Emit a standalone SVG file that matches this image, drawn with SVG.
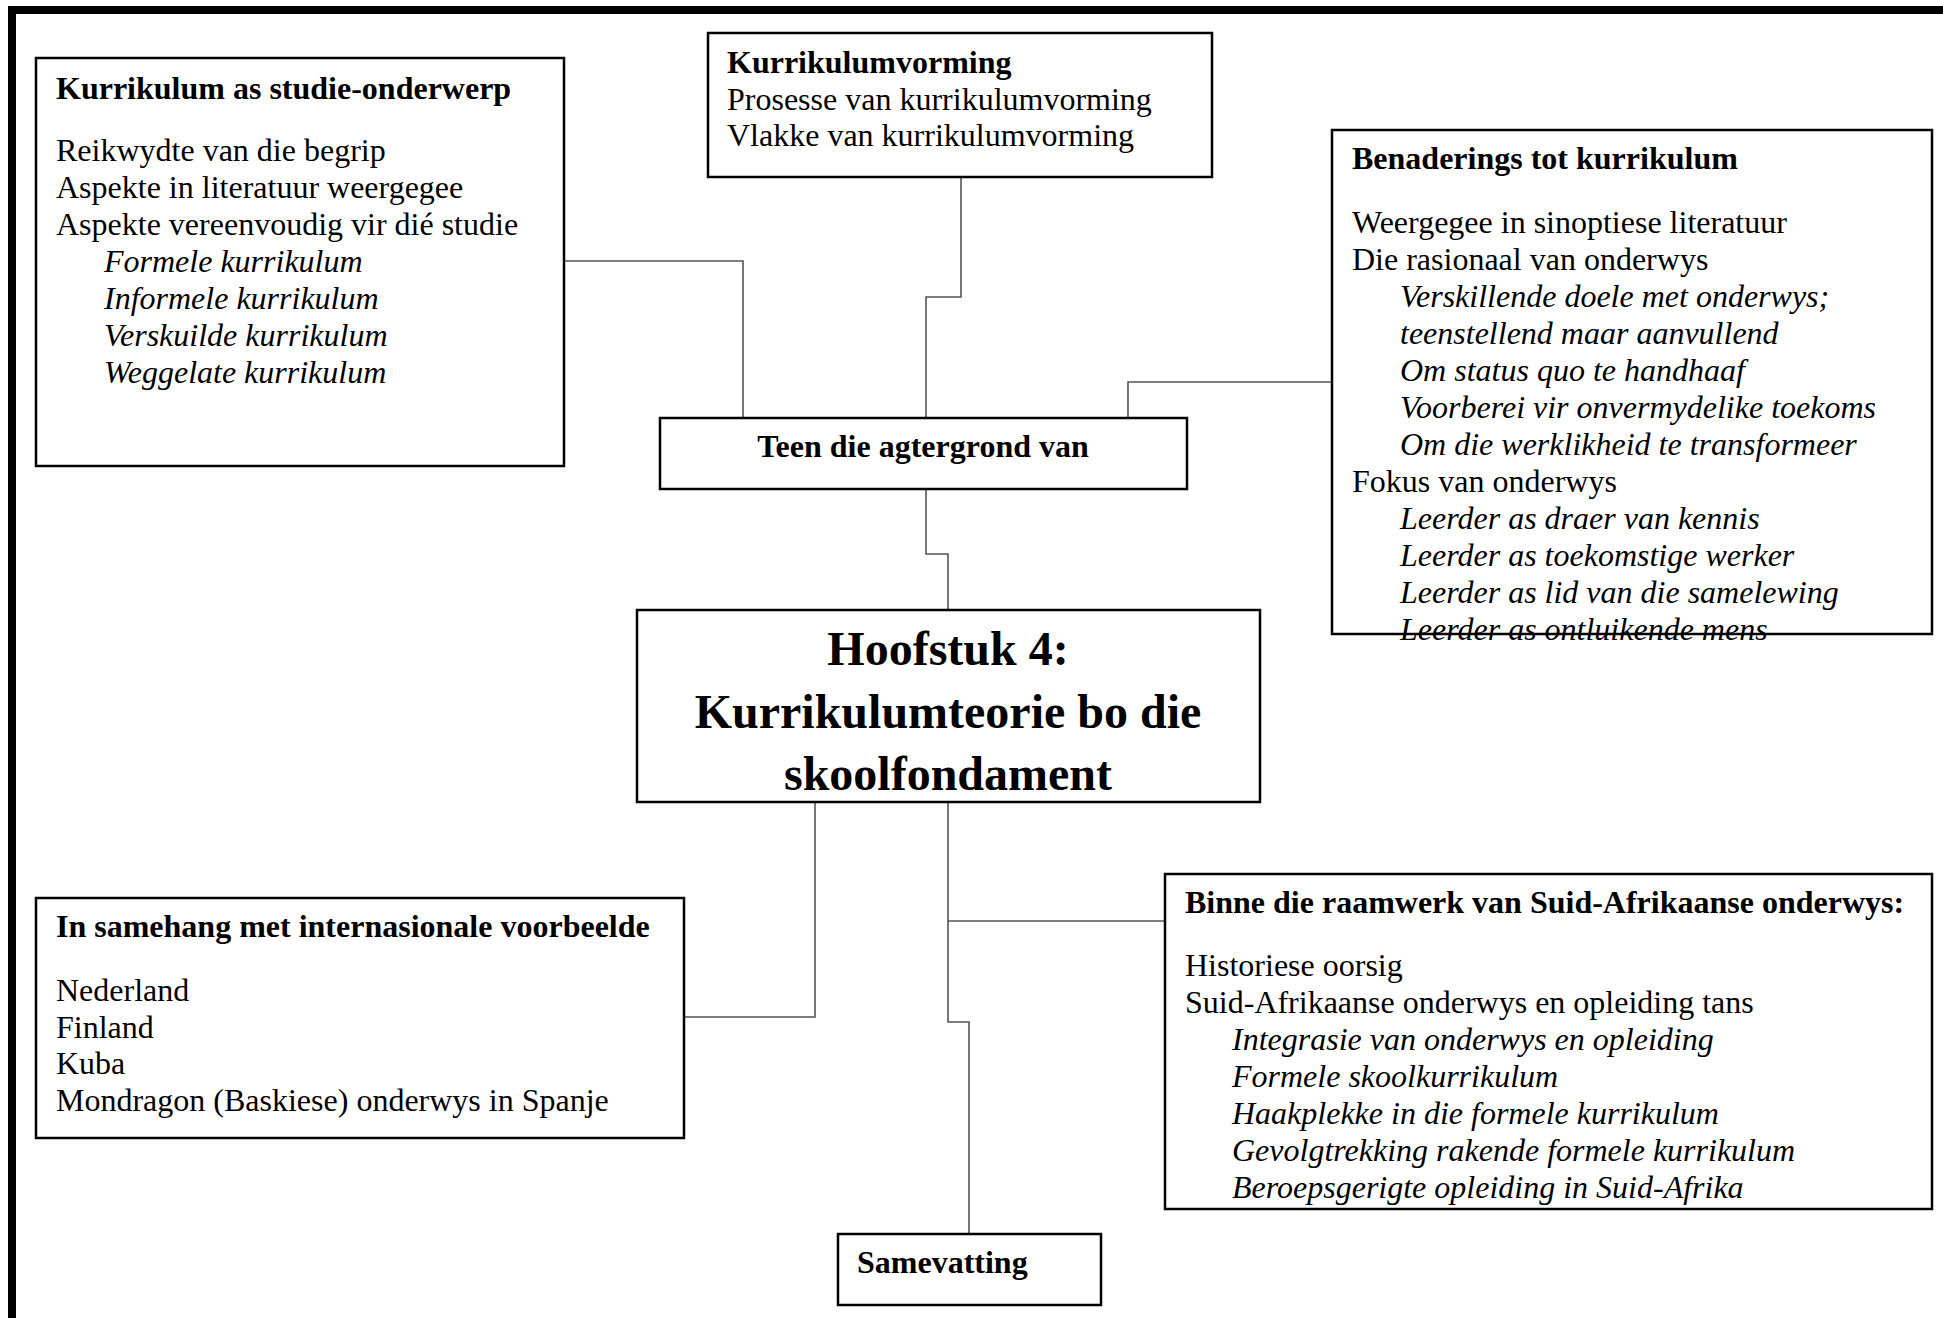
<svg xmlns="http://www.w3.org/2000/svg" width="1943" height="1318" viewBox="0 0 1943 1318">
<style>
.box{fill:none;stroke:#000;stroke-width:2.5}
.con{fill:none;stroke:#555;stroke-width:1.6}
text{font-family:"Liberation Serif","Times New Roman",serif;font-size:32px;fill:#000}
.b{font-weight:bold}
.i{font-style:italic}
.t{font-weight:bold;font-size:48px}
</style>
<rect x="0" y="0" width="1943" height="1318" fill="#fff"/>
<path d="M12,1318 V10 H1943" fill="none" stroke="#000" stroke-width="8"/>
<g id="connectors">
<path class="con" d="M564,261 H743 V418"/>
<path class="con" d="M961,177 V297 H926 V418"/>
<path class="con" d="M1332,382 H1128 V418"/>
<path class="con" d="M926,489 V554 H948 V610"/>
<path class="con" d="M815,802 V1017 H684"/>
<path class="con" d="M948,802 V921 H1165"/>
<path class="con" d="M948,921 V1022 H969 V1234"/>
</g>
<g id="studie">
<rect class="box" x="36" y="58" width="528" height="408"/>
<text class="b" x="56" y="99">Kurrikulum as studie-onderwerp</text>
<text x="56" y="161">Reikwydte van die begrip</text>
<text x="56" y="198">Aspekte in literatuur weergegee</text>
<text x="56" y="235">Aspekte vereenvoudig vir dié studie</text>
<text class="i" x="104" y="272">Formele kurrikulum</text>
<text class="i" x="104" y="309">Informele kurrikulum</text>
<text class="i" x="104" y="346">Verskuilde kurrikulum</text>
<text class="i" x="104" y="383">Weggelate kurrikulum</text>
</g>
<g id="vorming">
<rect class="box" x="708" y="33" width="504" height="144"/>
<text class="b" x="727" y="73">Kurrikulumvorming</text>
<text x="727" y="110">Prosesse van kurrikulumvorming</text>
<text x="727" y="146">Vlakke van kurrikulumvorming</text>
</g>
<g id="benaderings">
<rect class="box" x="1332" y="130" width="600" height="504"/>
<text class="b" x="1352" y="169">Benaderings tot kurrikulum</text>
<text x="1352" y="233">Weergegee in sinoptiese literatuur</text>
<text x="1352" y="270">Die rasionaal van onderwys</text>
<text class="i" x="1400" y="307">Verskillende doele met onderwys;</text>
<text class="i" x="1400" y="344">teenstellend maar aanvullend</text>
<text class="i" x="1400" y="381">Om status quo te handhaaf</text>
<text class="i" x="1400" y="418">Voorberei vir onvermydelike toekoms</text>
<text class="i" x="1400" y="455">Om die werklikheid te transformeer</text>
<text x="1352" y="492">Fokus van onderwys</text>
<text class="i" x="1400" y="529">Leerder as draer van kennis</text>
<text class="i" x="1400" y="566">Leerder as toekomstige werker</text>
<text class="i" x="1400" y="603">Leerder as lid van die samelewing</text>
<text class="i" x="1400" y="640">Leerder as ontluikende mens</text>
</g>
<g id="teen">
<rect class="box" x="660" y="418" width="527" height="71"/>
<text class="b" x="923" y="457" text-anchor="middle">Teen die agtergrond van</text>
</g>
<g id="hoofstuk">
<rect class="box" x="637" y="610" width="623" height="192"/>
<text class="t" x="948" y="665" text-anchor="middle">Hoofstuk 4:</text>
<text class="t" x="948" y="728" text-anchor="middle">Kurrikulumteorie bo die</text>
<text class="t" x="948" y="790" text-anchor="middle">skoolfondament</text>
</g>
<g id="samehang">
<rect class="box" x="36" y="898" width="648" height="240"/>
<text class="b" x="56" y="937">In samehang met internasionale voorbeelde</text>
<text x="56" y="1001">Nederland</text>
<text x="56" y="1038">Finland</text>
<text x="56" y="1074">Kuba</text>
<text x="56" y="1111">Mondragon (Baskiese) onderwys in Spanje</text>
</g>
<g id="binne">
<rect class="box" x="1165" y="874" width="767" height="335"/>
<text class="b" x="1185" y="913">Binne die raamwerk van Suid-Afrikaanse onderwys:</text>
<text x="1185" y="976">Historiese oorsig</text>
<text x="1185" y="1013">Suid-Afrikaanse onderwys en opleiding tans</text>
<text class="i" x="1232" y="1050">Integrasie van onderwys en opleiding</text>
<text class="i" x="1232" y="1087">Formele skoolkurrikulum</text>
<text class="i" x="1232" y="1124">Haakplekke in die formele kurrikulum</text>
<text class="i" x="1232" y="1161">Gevolgtrekking rakende formele kurrikulum</text>
<text class="i" x="1232" y="1198">Beroepsgerigte opleiding in Suid-Afrika</text>
</g>
<g id="samevatting">
<rect class="box" x="838" y="1234" width="263" height="71"/>
<text class="b" x="857" y="1273">Samevatting</text>
</g>
<text x="898" y="1339">93</text>
</svg>
